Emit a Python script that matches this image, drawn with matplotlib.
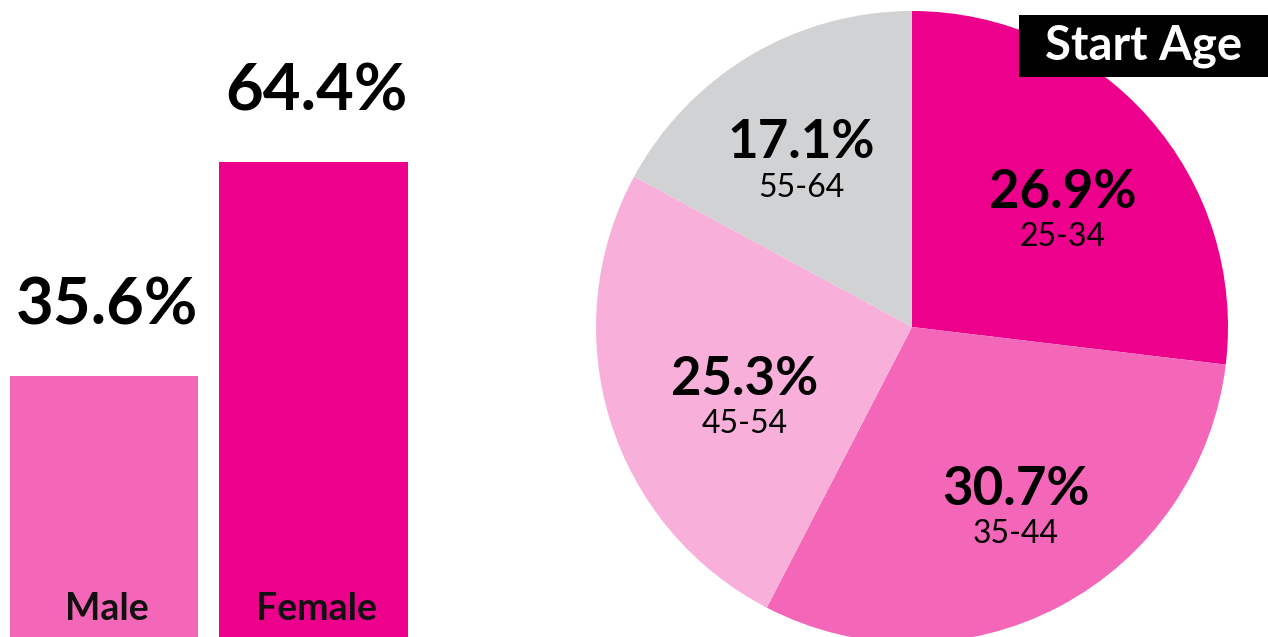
import matplotlib
matplotlib.use("Agg")
import matplotlib.pyplot as plt
from matplotlib.patches import Rectangle
import numpy as np

# ---- data ----
gender_labels = ["Male", "Female"]
gender_values = [35.6, 64.4]
gender_colors = ["#f366b8", "#ec008c"]

age_labels = ["25-34", "35-44", "45-54", "55-64"]
age_values = [26.9, 30.7, 25.3, 17.1]
age_colors = ["#ec008c", "#f366b8", "#f8b0db", "#d1d2d4"]
pie_title = "Start Age"

FONT = "Lato"
W, H = 1268, 637
fig = plt.figure(figsize=(W / 100, H / 100), dpi=100)
fig.patch.set_facecolor("white")

# ---- bar chart ----
px_per_unit_y = 7.43
ylo = 0.47
yhi = ylo + H / px_per_unit_y
px_per_cat = 209.5
xlo = -104 / px_per_cat
axw = 430
ax = fig.add_axes([0, 0, axw / W, 1])
x = np.arange(len(gender_values))
ax.bar(x, gender_values, width=0.9, color=gender_colors)
ax.set_xlim(xlo, xlo + axw / px_per_cat)
ax.set_ylim(ylo, yhi)
ax.axis("off")
for xi, v, lab in zip(x, gender_values, gender_labels):
    ax.annotate(f"{v}%", (xi, v), xytext=(2, 37), textcoords="offset points",
                ha="center", va="baseline", fontsize=47, fontweight="bold",
                family=FONT, color="black", annotation_clip=False)
    ax.annotate(lab, (xi, 0), xytext=(2, 15), textcoords="offset points",
                ha="center", va="baseline", fontsize=27, fontweight="bold",
                family=FONT, color="#111111", annotation_clip=False)

# ---- pie chart ----
cx, cy, R = 912, H - 327, 316
ax2 = fig.add_axes([(cx - R) / W, (cy - R) / H, 2 * R / W, 2 * R / H])
wedges, _ = ax2.pie(age_values, colors=age_colors, startangle=90,
                    counterclock=False, radius=1,
                    wedgeprops=dict(linewidth=0))
ax2.set_xlim(-1, 1)
ax2.set_ylim(-1, 1)
ax2.set_aspect("equal")
ax2.axis("off")

label_dist = [0.6, 0.66, 0.575, 0.63]
label_turn = [-4, 2, 6, 3]
for w, v, lab, d, t in zip(wedges, age_values, age_labels, label_dist, label_turn):
    ang = np.deg2rad((w.theta1 + w.theta2) / 2 + t)
    lx, ly = d * np.cos(ang), d * np.sin(ang)
    ax2.text(lx, ly + 0.01, f"{v}%", ha="center", va="baseline",
             fontsize=38, fontweight="bold", family=FONT, color="black")
    ax2.text(lx, ly - 0.035, lab, ha="center", va="top",
             fontsize=23, family=FONT, color="black")

fig.patches.append(Rectangle((1019 / W, 1 - 77 / H), (W - 1019) / W, 62 / H,
                             transform=fig.transFigure, fc="black", ec="none",
                             zorder=5))
fig.text((1019 + W) / 2 / W, 1 - 46 / H, pie_title, ha="center", va="center",
         fontsize=34, fontweight="bold", family=FONT, color="white", zorder=6)

fig.savefig("out.png", dpi=100, facecolor="white")
